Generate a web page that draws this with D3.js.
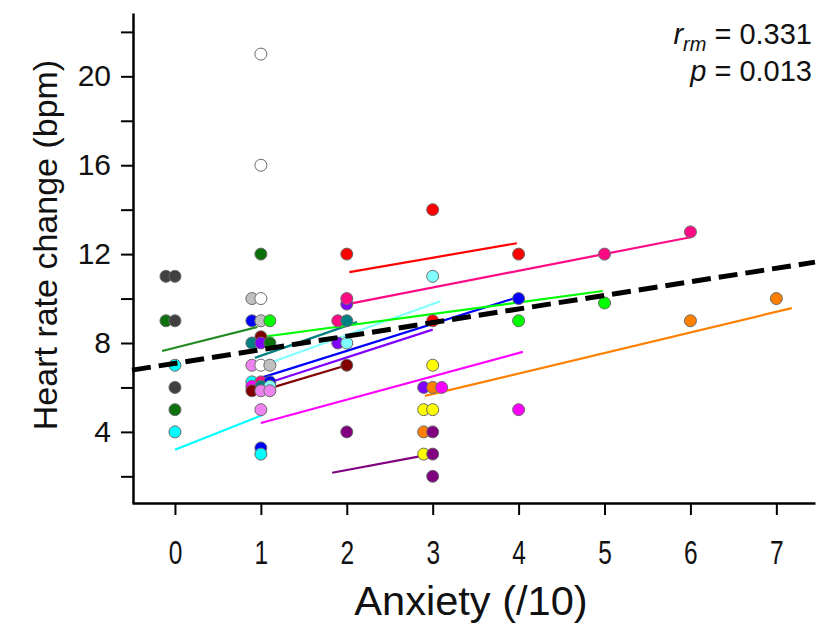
<!DOCTYPE html>
<html><head><meta charset="utf-8">
<script src="https://cdn.jsdelivr.net/npm/d3@7"></script>
<style>
html,body{margin:0;padding:0;background:#fff;}
svg{display:block;}
</style></head>
<body>
<svg id="chart" width="820" height="627"></svg>
<script>
// ---------- data ----------
const subjectNames  = ["darkgrey","darkgreen","cyan","white","grey","blue","lime","teal","maroon","blueviolet","lightviolet","lightcyan","magenta","deeppink","red","yellow","orange","purple"];
const subjectColors = ["#404040","#0b720b","#00ffff","#ffffff","#c0c0c0","#0000ff","#00ff00","#008080","#800000","#8000ff","#ee82ee","#80ffff","#ff00ff","#ff0a85","#ff0000","#ffff00","#ff8000","#800080"];

// [subject, anxiety, heart-rate change]
const points = [
  ["darkgrey",0,11],["darkgrey",0,11],
  ["darkgreen",0,9],["darkgrey",0,9],
  ["cyan",0,7],["darkgrey",0,6],["darkgreen",0,5],["cyan",0,4],
  ["white",1,21],["white",1,16],["darkgreen",1,12],
  ["grey",1,10],["white",1,10],
  ["blue",1,9],["grey",1,9],["lime",1,9],
  ["maroon",1,8.28],
  ["teal",1,8],["blueviolet",1,8],["darkgreen",1,8],
  ["lightviolet",1,7],["white",1,7],["grey",1,7],
  ["cyan",1,6.25],["deeppink",1,6.25],["blue",1,6.25],
  ["magenta",1,6.05],["teal",1,6.05],["lightcyan",1,6.05],
  ["maroon",1,5.85],["lightviolet",1,5.85],["lightviolet",1,5.85],
  ["lightviolet",1,5],["blue",1,3.28],["cyan",1,3],
  ["red",2,12],["blueviolet",2,9.75],["deeppink",2,10],
  ["deeppink",2,9],["teal",2,9],
  ["blueviolet",2,8],["lightcyan",2,8],
  ["maroon",2,7],["purple",2,4],
  ["red",3,14],["lightcyan",3,11],["red",3,9],["yellow",3,7],
  ["blueviolet",3,6],["orange",3,6],["magenta",3,6],
  ["yellow",3,5],["yellow",3,5],
  ["orange",3,4],["purple",3,4],
  ["yellow",3,3],["purple",3,3],
  ["purple",3,2],
  ["red",4,12],["blue",4,10],["lime",4,9],["magenta",4,5],
  ["deeppink",5,12],["lime",5,9.8],
  ["deeppink",6,13],["orange",6,9],
  ["orange",7,10]
];

// per-subject fitted lines: [subject, x1, y1, x2, y2]
const subjectLines = [
  ["darkgreen",-0.15,7.64,0.96,8.72],
  ["cyan",0,3.2,1.02,4.76],
  ["lightcyan",0.97,6.92,3.09,9.88],
  ["teal",0.93,7.33,2.12,8.94],
  ["blue",1.0,6.43,4.0,10.07],
  ["blueviolet",1.0,6.1,3.0,8.6],
  ["maroon",1.05,5.9,2.0,7.0],
  ["magenta",1.0,4.4,4.05,7.6],
  ["orange",2.91,5.62,7.18,9.57],
  ["red",2.03,11.19,3.98,12.49],
  ["deeppink",2.01,9.75,6.0,12.76],
  ["lime",1.01,8.27,4.98,10.34],
  ["purple",1.83,2.16,2.88,2.92]
];

// overall repeated-measures fit (dashed)
const overallX = [-0.5, 7.45];
const overallY = [6.78, 11.64];

const xTicks = [0,1,2,3,4,5,6,7];
const yMajorTicks = [4,8,12,16,20];
const yMinorTicks = [2,6,10,14,18,22];
const xTitle = "Anxiety (/10)";
const yTitle = "Heart rate change (bpm)";
const statR = "0.331";
const statP = "0.013";

// ---------- drawing ----------
const color = d3.scaleOrdinal().domain(subjectNames).range(subjectColors);
const lineColor = d3.scaleOrdinal().domain(subjectNames)
  .range(subjectColors.map((c,i)=>subjectNames[i]==="darkgreen" ? "#208a20" : c));
const svg = d3.select("#chart");
const x = d3.scaleLinear().domain([-0.5, 7.45]).range([132, 815]);
const y = d3.scaleLinear().domain([0.8, 22.85]).range([503, 13]);

// axes
const xAxis = d3.axisBottom(x).tickValues(xTicks).tickSize(12).tickSizeOuter(0).tickPadding(14);
const gx = svg.append("g").attr("transform","translate(0,503)").call(xAxis);
gx.select(".domain").attr("stroke","#000").attr("stroke-width",2.5);
gx.selectAll(".tick line").attr("stroke","#000").attr("stroke-width",2);
gx.selectAll(".tick text").attr("font-family","'Liberation Sans',Arial,sans-serif")
  .attr("font-size",34).attr("fill","#111").attr("dy",null).attr("y",null)
  .attr("transform","translate(0,61) scale(0.72,1)");

const yAxis = d3.axisLeft(y).tickValues(yMajorTicks).tickSize(12).tickSizeOuter(0).tickPadding(10);
const gy = svg.append("g").attr("transform","translate(133,0)").call(yAxis);
gy.select(".domain").attr("stroke","#000").attr("stroke-width",2.5);
gy.selectAll(".tick line").attr("stroke","#000").attr("stroke-width",2);
gy.selectAll(".tick text").attr("font-family","'Liberation Sans',Arial,sans-serif")
  .attr("font-size",30).attr("fill","#111");
const gyMinor = svg.append("g").attr("transform","translate(133,0)")
  .call(d3.axisLeft(y).tickValues(yMinorTicks).tickSize(12).tickFormat(""));
gyMinor.select(".domain").remove();
gyMinor.selectAll(".tick line").attr("stroke","#000").attr("stroke-width",2);

// titles
svg.append("text").attr("x",471).attr("y",615).attr("text-anchor","middle")
  .attr("font-family","'Liberation Sans',Arial,sans-serif")
  .attr("font-size",40).attr("fill","#111")
  .attr("transform","translate(471,0) scale(1.04,1) translate(-471,0)").text(xTitle);
svg.append("text").attr("transform","translate(57,245) rotate(-90)").attr("text-anchor","middle")
  .attr("font-family","'Liberation Sans',Arial,sans-serif")
  .attr("font-size",34).attr("fill","#111").text(yTitle);

// subject lines
svg.append("g").selectAll("line").data(subjectLines).join("line")
  .attr("x1",d=>x(d[1])).attr("y1",d=>y(d[2])).attr("x2",d=>x(d[3])).attr("y2",d=>y(d[4]))
  .attr("stroke",d=>lineColor(d[0])).attr("stroke-width",2.2);

// points with horizontal dodge for identical values
const groups = d3.group(points.map((p,i)=>({s:p[0],ax:p[1],hr:p[2],i})), d=>d.ax+"|"+d.hr);
const placed = [];
for (const [k,arr] of groups) {
  const n = arr.length, c = Math.ceil((n-1)/2);
  arr.forEach((d,j)=>{ d.off = (j-c)*9; placed.push(d); });
}
placed.sort((a,b)=>a.i-b.i);
svg.append("g").selectAll("circle").data(placed).join("circle")
  .attr("cx",d=>x(d.ax)+d.off).attr("cy",d=>y(d.hr)).attr("r",6)
  .attr("fill",d=>color(d.s)).attr("stroke","#6a6a6a").attr("stroke-width",1);

// overall dashed line
svg.append("line")
  .attr("x1",x(overallX[0])).attr("y1",y(overallY[0]))
  .attr("x2",x(overallX[1])).attr("y2",y(overallY[1]))
  .attr("stroke","#000").attr("stroke-width",5).attr("stroke-dasharray","19,8");

// stats annotation
const t1 = svg.append("text").attr("x",812).attr("y",44).attr("text-anchor","end")
  .attr("font-family","'Liberation Sans',Arial,sans-serif").attr("font-size",29).attr("fill","#111");
t1.append("tspan").attr("font-style","italic").text("r");
t1.append("tspan").attr("font-style","italic").attr("font-size",20).attr("dy",7).text("rm");
t1.append("tspan").attr("dy",-7).text(" = " + statR);
const t2 = svg.append("text").attr("x",812).attr("y",81).attr("text-anchor","end")
  .attr("font-family","'Liberation Sans',Arial,sans-serif").attr("font-size",29).attr("fill","#111");
t2.append("tspan").attr("font-style","italic").text("p");
t2.append("tspan").text(" = " + statP);
</script>
</body></html>
